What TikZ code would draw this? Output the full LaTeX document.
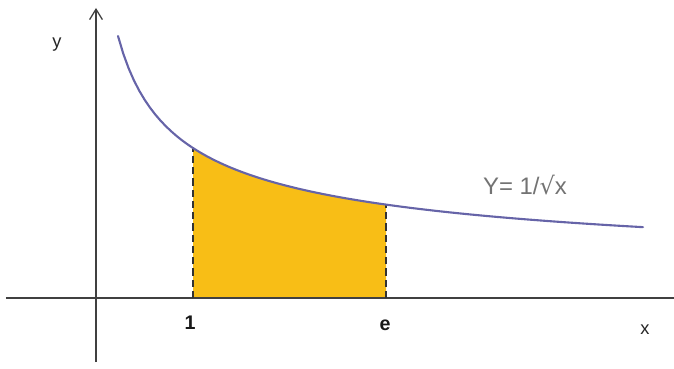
\documentclass[tikz,border=0pt]{standalone}
\usepackage{fontspec}
\setmainfont{Liberation Sans}
\setsansfont{Liberation Sans}
\newfontfamily\symfont{DejaVu Sans}
\usepackage{tikz}
\usetikzlibrary{
	arrows.meta,
	positioning,
	calc
}

\definecolor{areafill}{RGB}{248,190,22}
\definecolor{curveblue}{RGB}{102,100,168}

\begin{document}
\begin{tikzpicture}[
	x=0.025cm, y=0.025cm,
	axis/.style={line width=0.9pt, draw=black!75},
	curve/.style={line width=1.5pt, draw=curveblue, line cap=round},
	bound/.style={line width=0.8pt, draw=black!80, dash pattern=on 5pt off 3pt},
	label/.style={font=\fontsize{13}{13}\selectfont, text=black!85, inner sep=1pt},
	tick/.style={font=\fontsize{14}{14}\selectfont\bfseries, text=black!90, inner sep=1pt},
	fnlabel/.style={font=\fontsize{17}{17}\selectfont, text=black!55, inner sep=1pt}
]

\useasboundingbox (-96,-70) rectangle (578,298);

% Area under the curve
\fill[areafill] (97,0) -- plot[domain=97:290, samples=40] (\x, {1479/sqrt(\x+12)+8.3}) -- (290,0) -- cycle;

% Axes
\coordinate (xl) at (-90,0);
\coordinate (xr) at (578,0);
\coordinate (yb) at (0,-64);
\coordinate (yt) at (0,290);
\draw[axis] (xl) -- (xr);
\draw[axis, -{Straight Barb[length=2.6mm, width=3.2mm]}] (yb) -- (yt);

% Bounds
\coordinate (a0) at (97,0);
\coordinate (a1) at (97, {1479/sqrt(109)+8.3});
\coordinate (b0) at (290,0);
\coordinate (b1) at (290, {1479/sqrt(302)+8.3});
\draw[bound] (a0) -- (a1);
\draw[bound] (b0) -- (b1);

% Curve
\draw[curve] plot[domain=22:547, samples=100] (\x, {1479/sqrt(\x+12)+8.3});

% Labels
\node[label] (ylab) at (-39,253) {y};
\node[label] (xlab) at (549,-32) {x};
\node[tick] (one) at (94,-25) {1};
\node[tick] (e) at (289,-27) {e};
\node[fnlabel] (fn) at (429,113) {Y= 1/{\symfont √}x};
\end{tikzpicture}
\end{document}
